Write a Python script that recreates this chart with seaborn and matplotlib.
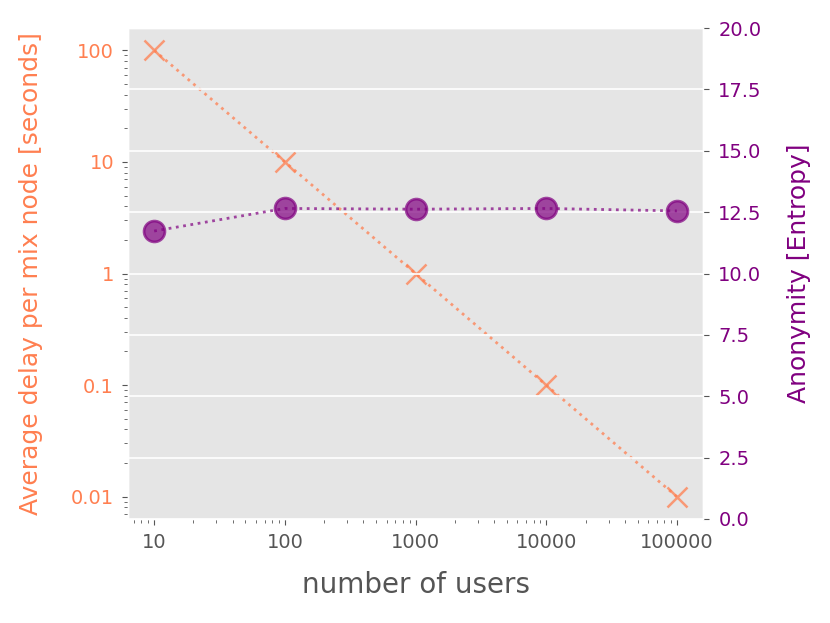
import matplotlib
matplotlib.use("Agg")
import matplotlib.pyplot as plt
import seaborn as sns
import pandas as pd

plt.style.use("ggplot")

users = [10, 100, 1000, 10000, 100000]
delay = [100, 10, 1, 0.1, 0.01]
entropy = [11.73, 12.65, 12.62, 12.65, 12.55]
delay_ticks = [100, 10, 1, 0.1, 0.01]
delay_labels = ["100", "10", "1", "0.1", "0.01"]
user_labels = ["10", "100", "1000", "10000", "100000"]

df = pd.DataFrame({"users": users, "delay": delay, "entropy": entropy})

fig, ax1 = plt.subplots(figsize=(8.3, 6.23), dpi=100)
fig.subplots_adjust(left=128/830, right=703/830, top=1-28/623, bottom=1-519/623)

sns.lineplot(data=df, x="users", y="delay", ax=ax1, color="coral", marker="x",
             linestyle=":", linewidth=2, markersize=15, markeredgewidth=1.8,
             markeredgecolor="coral", alpha=0.75)
ax1.set_xscale("log")
ax1.set_yscale("log")
ax1.grid(False)
ax1.set_yticks(delay_ticks)
ax1.set_yticklabels(delay_labels)
ax1.set_xticks(users)
ax1.set_xticklabels(user_labels)
ax1.tick_params(axis="y", which="major", colors="#555555", labelcolor="coral",
                labelsize=14, length=4, pad=6)
ax1.tick_params(axis="x", which="major", colors="#555555", labelsize=14, length=4, pad=6)
ax1.tick_params(which="minor", colors="#555555", length=3)
ax1.set_ylabel("Average delay per mix node [seconds]", color="coral", fontsize=18, labelpad=20)
ax1.set_xlabel("number of users", color="#555555", fontsize=20, labelpad=14)

ax2 = ax1.twinx()
sns.lineplot(data=df, x="users", y="entropy", ax=ax2, color="purple", marker="o",
             linestyle=":", linewidth=2, markersize=15, markeredgewidth=2,
             markeredgecolor="purple", alpha=0.7)
ax2.set_ylim(0, 20)
ax2.set_yticks([0, 2.5, 5, 7.5, 10, 12.5, 15, 17.5, 20])
ax2.grid(True, axis="y", color="white", linewidth=1.2)
ax2.grid(False, axis="x")
ax2.tick_params(axis="y", colors="#555555", labelcolor="purple", labelsize=14,
                length=4, pad=7)
ax2.set_ylabel("Anonymity [Entropy]", color="purple", fontsize=18, labelpad=18)

fig.savefig("out.png", dpi=100)
